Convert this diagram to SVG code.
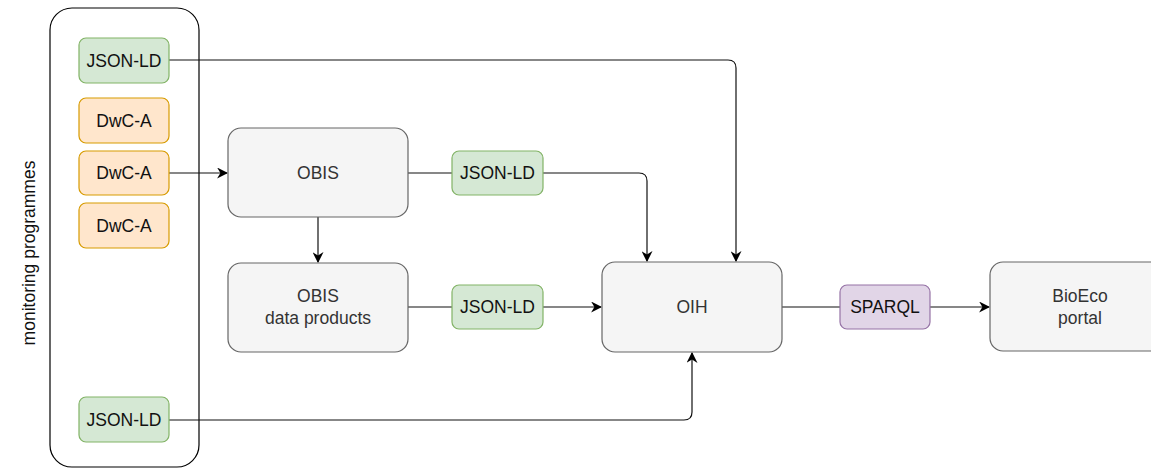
<svg xmlns="http://www.w3.org/2000/svg" width="1151" height="468" viewBox="0 0 1151 468">
<defs>
<style>
text{font-family:"Liberation Sans",Arial,sans-serif;font-size:17.5px;text-anchor:middle;dominant-baseline:central;fill:#111}
.g{fill:#d5e8d4;stroke:#82b366;stroke-width:1.2}
.o{fill:#ffe6cc;stroke:#d79b00;stroke-width:1.2}
.p{fill:#e1d5e7;stroke:#9673a6;stroke-width:1.2}
.n{fill:#f5f5f5;stroke:#666666;stroke-width:1.2}
.gt{fill:#333333}
.c{fill:none;stroke:#111;stroke-width:1.2}
</style>
<marker id="ah" viewBox="0 0 10 10" refX="9" refY="5" markerWidth="11" markerHeight="11" markerUnits="userSpaceOnUse" orient="auto">
<path d="M0,0 L10,5 L0,10 L3,5 Z" fill="#000"/>
</marker>
</defs>
<rect width="1151" height="468" fill="#fff"/>
<g id="container">
<rect x="50" y="8" width="149" height="459" rx="22" fill="none" stroke="#000" stroke-width="1.2"/>
<text x="29" y="253" transform="rotate(-90 29 253)">monitoring programmes</text>
</g>
<g id="connectors">
<path class="c" d="M169,60 H728 Q736,60 736,68 V261" marker-end="url(#ah)"/>
<path class="c" d="M169,173 H227" marker-end="url(#ah)"/>
<path class="c" d="M408,173 H452"/>
<path class="c" d="M543,173 H639 Q647,173 647,181 V261" marker-end="url(#ah)"/>
<path class="c" d="M318,217 V262" marker-end="url(#ah)"/>
<path class="c" d="M408,307 H452"/>
<path class="c" d="M543,307 H601" marker-end="url(#ah)"/>
<path class="c" d="M169,420 H684 Q692,420 692,412 V353" marker-end="url(#ah)"/>
<path class="c" d="M782,307 H840"/>
<path class="c" d="M930,307 H989" marker-end="url(#ah)"/>
</g>
<g id="jsonld-top"><rect class="g" x="79" y="38" width="90" height="45" rx="7"/><text x="124" y="60.5">JSON-LD</text></g>
<g id="dwca-1"><rect class="o" x="79" y="98" width="90" height="45" rx="7"/><text x="124" y="120.5">DwC-A</text></g>
<g id="dwca-2"><rect class="o" x="79" y="151" width="90" height="44" rx="7"/><text x="124" y="173">DwC-A</text></g>
<g id="dwca-3"><rect class="o" x="79" y="203" width="90" height="45" rx="7"/><text x="124" y="225.5">DwC-A</text></g>
<g id="jsonld-bottom"><rect class="g" x="79" y="397" width="90" height="45" rx="7"/><text x="124" y="419.5">JSON-LD</text></g>
<g id="obis"><rect class="n" x="228" y="128" width="180" height="89" rx="13"/><text x="318" y="172.5" class="gt">OBIS</text></g>
<g id="obis-data-products"><rect class="n" x="228" y="263" width="180" height="89" rx="13"/><text x="318" y="296" class="gt">OBIS</text><text x="318" y="318" class="gt">data products</text></g>
<g id="jsonld-obis"><rect class="g" x="452" y="151" width="91" height="44" rx="7"/><text x="497.5" y="173">JSON-LD</text></g>
<g id="jsonld-products"><rect class="g" x="452" y="285" width="91" height="44" rx="7"/><text x="497.5" y="307">JSON-LD</text></g>
<g id="oih"><rect class="n" x="602" y="262" width="180" height="90" rx="13"/><text x="692" y="307" class="gt">OIH</text></g>
<g id="sparql"><rect class="p" x="840" y="285" width="90" height="44" rx="7"/><text x="885" y="307">SPARQL</text></g>
<g id="bioeco-portal"><rect class="n" x="990" y="262" width="180" height="89" rx="13"/><text x="1080" y="296" class="gt">BioEco</text><text x="1080" y="318" class="gt">portal</text></g>
</svg>
